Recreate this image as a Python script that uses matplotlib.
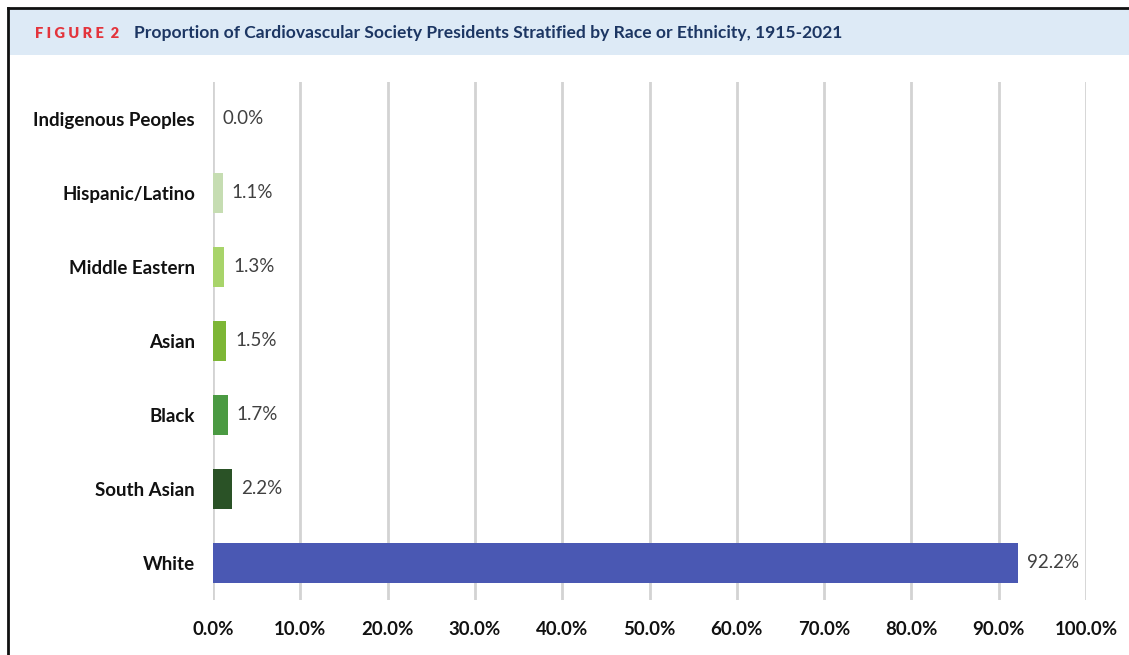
import matplotlib
matplotlib.use("Agg")
import matplotlib.pyplot as plt
from matplotlib.patches import Rectangle
from matplotlib.lines import Line2D

# Data (bottom to top, as drawn)
categories = ["White", "South Asian", "Black", "Asian", "Middle Eastern",
              "Hispanic/Latino", "Indigenous Peoples"]
percent = [92.2, 2.2, 1.7, 1.5, 1.3, 1.1, 0.0]
bar_colors = ["#4A58B3", "#2A5226", "#4B9A42", "#7DB635", "#A8D46A",
              "#C6DDB2", "#C6DDB2"]
x_ticks = [0, 10, 20, 30, 40, 50, 60, 70, 80, 90, 100]

plt.rcParams["font.family"] = ["Lato", "DejaVu Sans"]

fig = plt.figure(figsize=(11.29, 6.55), dpi=100)
W, H = 1129, 655

# header band and frame
fig.patches.append(Rectangle((9 / W, 1 - 55 / H), 1, 46 / H,
                             transform=fig.transFigure, facecolor="#DDEAF6",
                             edgecolor="none", zorder=0))
fig.lines.append(Line2D([8 / W, 1], [1 - 8 / H, 1 - 8 / H],
                        transform=fig.transFigure, color="#111111", lw=2))
fig.lines.append(Line2D([8 / W, 8 / W], [0, 1 - 8 / H],
                        transform=fig.transFigure, color="#111111", lw=2))

fig.text(35 / W, 1 - 33 / H, "F I G U R E  2", color="#E3343C",
         fontsize=10.5, fontweight="heavy", va="center", ha="left")
fig.text(134 / W, 1 - 33 / H,
         "Proportion of Cardiovascular Society Presidents Stratified by Race or Ethnicity, 1915-2021",
         color="#1C3663", fontsize=12.6, fontweight="bold", va="center", ha="left")

ax = fig.add_axes([213 / W, 1 - 600 / H, (1086 - 213) / W, (600 - 82) / H])
y = list(range(len(categories)))
ax.barh(y, percent, height=0.54, color=bar_colors, zorder=3)

for yi, v in zip(y, percent):
    ax.annotate(f"{v:.1f}%", xy=(v, yi), xytext=(6.5, 0), textcoords="offset points",
                va="center", ha="left", fontsize=13.5, color="#404040")

ax.set_xlim(0, 100)
ax.set_ylim(-0.5, 6.5)
ax.set_xticks(x_ticks)
ax.set_xticklabels([f"{t:.1f}%" for t in x_ticks], fontsize=13.4,
                   fontweight="bold", color="#111111")
ax.set_yticks(y)
ax.set_yticklabels(categories, fontsize=13.5, fontweight="bold", color="#111111")
ax.tick_params(axis="x", length=0, pad=15)
ax.tick_params(axis="y", length=0, pad=13)
ax.grid(axis="x", color="#D3D3D3", linewidth=2, zorder=0)
ax.set_axisbelow(True)
for s in ax.spines.values():
    s.set_visible(False)

fig.savefig("out.png", dpi=100, facecolor="white")
